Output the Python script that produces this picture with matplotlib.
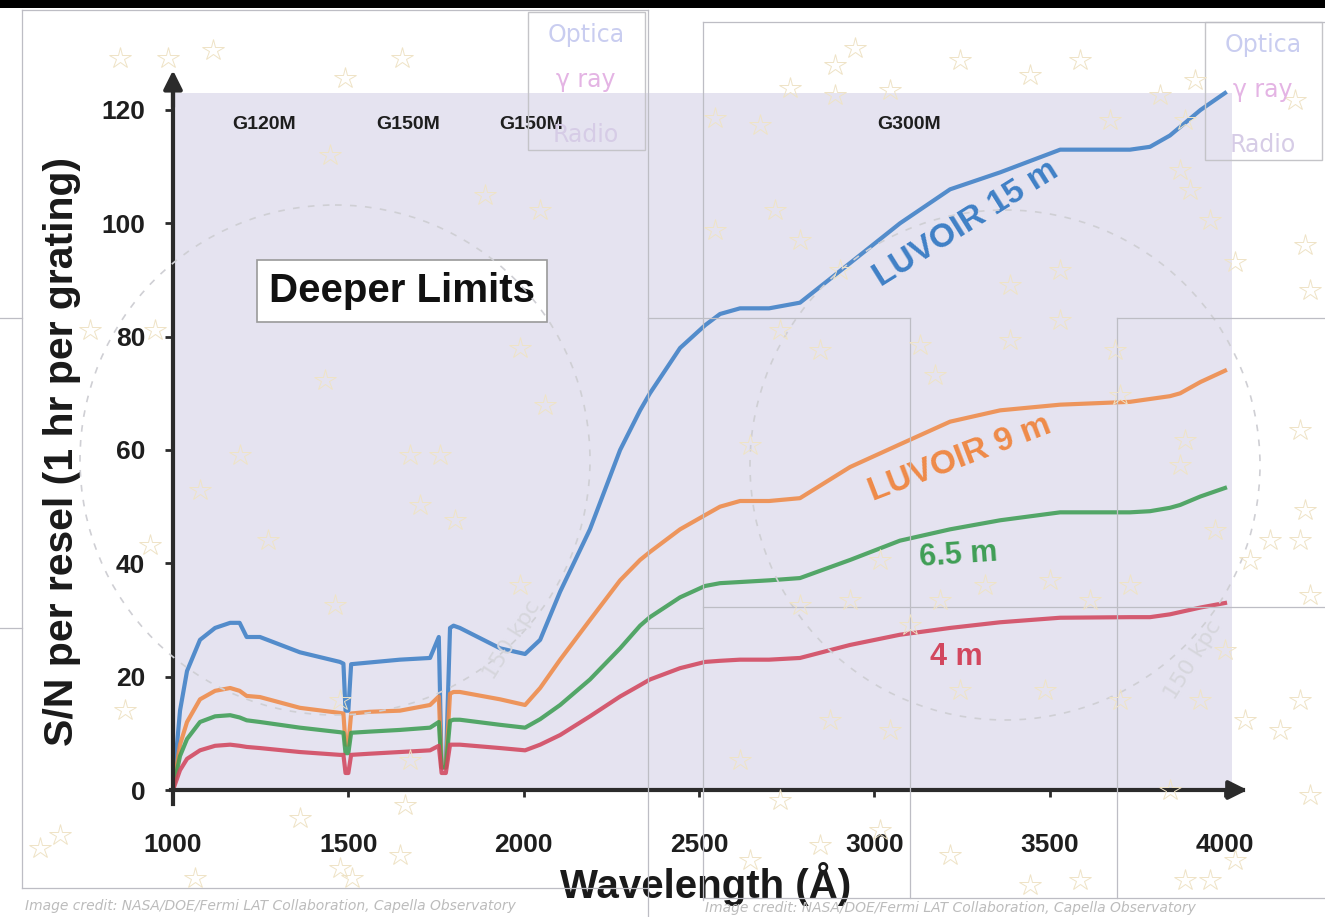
import matplotlib
matplotlib.use("Agg")
import matplotlib.pyplot as plt
from matplotlib.patches import Rectangle, Circle

# ---------------- data ----------------
wavelength = [1000, 1020, 1040, 1077, 1120, 1163, 1190, 1210, 1248, 1362, 1476, 1486, 1492, 1500,
              1508, 1560, 1647, 1733, 1758, 1766, 1778, 1790, 1800, 1818, 1933, 2004, 2047, 2104,
              2189, 2275, 2332, 2360, 2446, 2517, 2560, 2617, 2700, 2788, 2931, 3073, 3216, 3359,
              3530, 3729, 3786, 3843, 3872, 3930, 4000]

sn_15m = [0, 14, 21, 26.5, 28.6, 29.5, 29.5, 27, 27, 24.3, 22.6, 22.3, 14, 14,
          22.2, 22.5, 23, 23.3, 27, 4, 4, 28.6, 29, 28.6, 25, 24, 26.5, 35,
          46, 60, 67, 70, 78, 82, 84, 85, 85, 86, 93, 100, 106, 109,
          113, 113, 113.5, 115.5, 117, 120, 123]

sn_9m = [0, 8, 12, 16, 17.5, 18, 17.5, 16.6, 16.4, 14.5, 13.6, 13.5, 8, 8,
         13.5, 13.8, 14, 15, 16.5, 4, 4, 17, 17.3, 17.3, 16, 15, 18, 23,
         30, 37, 40.6, 42, 46, 48.5, 50, 51, 51, 51.5, 57, 61, 65, 67,
         68, 68.5, 69, 69.5, 70, 72, 74]

sn_65m = [0, 6, 9, 12, 13, 13.2, 12.8, 12.3, 12, 11, 10.2, 10.1, 6.5, 6.5,
          10.1, 10.3, 10.6, 11, 12, 4, 4, 12.2, 12.4, 12.4, 11.5, 11, 12.5, 15,
          19.5, 25, 29, 30.5, 34, 36, 36.5, 36.7, 37, 37.4, 40.6, 44, 46, 47.6,
          49, 49, 49.2, 49.8, 50.3, 51.8, 53.3]

sn_4m = [0, 3.5, 5.5, 7, 7.8, 8, 7.8, 7.6, 7.4, 6.7, 6.2, 6.2, 3, 3,
         6.2, 6.4, 6.7, 7, 7.8, 3, 3, 8, 8, 8, 7.4, 7, 8, 9.7,
         13, 16.5, 18.5, 19.5, 21.5, 22.6, 22.8, 23, 23, 23.3, 25.6, 27.4, 28.6, 29.6,
         30.4, 30.5, 30.5, 31, 31.4, 32.2, 33]

series_names = ["LUVOIR 15 m", "LUVOIR 9 m", "6.5 m", "4 m"]
series_values = [sn_15m, sn_9m, sn_65m, sn_4m]
series_colors = ["#3f80c6", "#ef8a48", "#3f9e55", "#d2475e"]

grating_names = ["G120M", "G150M", "G150M", "G300M"]
grating_x = [1260, 1670, 2020, 3100]

x_ticks = [1000, 1500, 2000, 2500, 3000, 3500, 4000]
y_ticks = [0, 20, 40, 60, 80, 100, 120]

# ---------------- figure ----------------
W, H = 1325, 917
fig = plt.figure(figsize=(W / 100, H / 100), dpi=100)
fig.patch.set_facecolor("white")

px_per_x = (1225 - 173) / 3000.0
px_per_y = (790 - 110) / 120.0
left_px, right_px, top_px, bot_px = 173, 1262, 60, 800
x0 = 1000
x1 = 1000 + (right_px - left_px) / px_per_x
y0 = -(bot_px - 790) / px_per_y
y1 = (790 - top_px) / px_per_y

ax = fig.add_axes([left_px / W, (H - bot_px) / H, (right_px - left_px) / W, (bot_px - top_px) / H])
ax.set_xlim(x0, x1)
ax.set_ylim(y0, y1)
ax.patch.set_alpha(0)

FONT = "Liberation Sans"

# lavender plotting area
ax.add_patch(Rectangle((1000, 0), 3020, 123, facecolor="#e5e3f0", edgecolor="none", zorder=0))

for vals, col in zip(series_values, series_colors):
    ax.plot(wavelength, vals, color=col, lw=3, alpha=0.88, solid_joinstyle="round", zorder=3)

# axes as arrows
for s in ["top", "right"]:
    ax.spines[s].set_visible(False)
ax.spines["left"].set_position(("data", 1000))
ax.spines["bottom"].set_position(("data", 0))
ax.spines["left"].set_bounds(-2.5, 124)
ax.spines["bottom"].set_bounds(995, 4050)
for s in ["left", "bottom"]:
    ax.spines[s].set_linewidth(3)
    ax.spines[s].set_color("#2b2b2b")
    ax.spines[s].set_zorder(4)
ax.annotate("", xy=(4072, 0), xytext=(4000, 0),
            arrowprops=dict(arrowstyle="-|>", color="#2b2b2b", lw=3, mutation_scale=28), zorder=4)
ax.annotate("", xy=(1000, 127.5), xytext=(1000, 120),
            arrowprops=dict(arrowstyle="-|>", color="#2b2b2b", lw=3, mutation_scale=28), zorder=4)

ax.set_xticks(x_ticks)
ax.set_yticks(y_ticks)
ax.set_xticklabels([str(v) for v in x_ticks])
ax.set_yticklabels([str(v) for v in y_ticks])
ax.tick_params(axis="x", length=5, width=2, color="#2b2b2b", pad=26, labelsize=19)
ax.tick_params(axis="y", length=6, width=2, color="#2b2b2b", pad=14, labelsize=19)
for lab in ax.get_xticklabels() + ax.get_yticklabels():
    lab.set_fontfamily(FONT)
    lab.set_fontweight("bold")
    lab.set_color("#1e1e1e")

fig.text(62 / W, 1 - 452 / H, "S/N per resel (1 hr per grating)", rotation=90, ha="center", va="center",
         fontsize=29.5, fontweight="bold", family=FONT, color="#1a1a1a")
fig.text(706 / W, 1 - 884 / H, "Wavelength (Å)", ha="center", va="center",
         fontsize=29, fontweight="bold", family=FONT, color="#1a1a1a")

# grating labels
for name, gx in zip(grating_names, grating_x):
    ax.text(gx, 117.5, name, ha="center", va="center", fontsize=14, fontweight="bold",
            family=FONT, color="#1e1e1e", zorder=5)

# Deeper Limits box
ax.text(1653, 88, "Deeper Limits", ha="center", va="center", fontsize=29, fontweight="bold",
        family=FONT, color="#111111", zorder=6,
        bbox=dict(boxstyle="square,pad=0.3", facecolor="white", edgecolor="#9a9a9a", lw=1.2))

# curve labels
ax.text(3262, 100, "LUVOIR 15 m", rotation=32, ha="center", va="center", fontsize=24, fontweight="bold",
        family=FONT, color=series_colors[0], zorder=5)
ax.text(3245, 58.5, "LUVOIR 9 m", rotation=21, ha="center", va="center", fontsize=24, fontweight="bold",
        family=FONT, color=series_colors[1], zorder=5)
ax.text(3239, 41.5, "6.5 m", rotation=4, ha="center", va="center", fontsize=22, fontweight="bold",
        family=FONT, color=series_colors[2], zorder=5)
ax.text(3235, 23.5, "4 m", rotation=0, ha="center", va="center", fontsize=22, fontweight="bold",
        family=FONT, color=series_colors[3], zorder=5)

# ---------------- overlay decorations (pixel coordinates) ----------------
ov = fig.add_axes([0, 0, 1, 1], zorder=10)
ov.set_xlim(0, W)
ov.set_ylim(H, 0)
ov.axis("off")
ov.patch.set_alpha(0)

ov.add_patch(Rectangle((0, 0), W, 8, facecolor="black", edgecolor="none"))

line_kw = dict(color="#bdbdc4", lw=0.9)
frame_lines = [
    ((22, 22), (10, 888)), ((22, 648), (888, 888)), ((22, 648), (10, 10)), ((648, 648), (10, 917)),
    ((703, 703), (22, 900)), ((703, 1325), (22, 22)), ((703, 1325), (898, 898)),
    ((0, 22), (318, 318)), ((0, 22), (628, 628)), ((648, 910), (318, 318)),
    ((910, 910), (318, 898)), ((1117, 1117), (318, 898)), ((1117, 1325), (318, 318)),
    ((703, 1325), (607, 607)), ((648, 703), (628, 628)),
]
for xs, ys in frame_lines:
    ov.plot(xs, ys, **line_kw)

# label boxes
for bx, by in [(528, 12), (1205, 22)]:
    ov.add_patch(Rectangle((bx, by), 117, 138, facecolor="none", edgecolor="#c4c4c8", lw=1))
    cx = bx + 58
    ov.text(cx, by + 23, "Optica", ha="center", va="center", fontsize=17, family="DejaVu Sans",
            color="#c9cdf0")
    ov.text(cx, by + 68, "γ ray", ha="center", va="center", fontsize=17, family="DejaVu Sans",
            color="#e4b4e4")
    ov.text(cx, by + 123, "Radio", ha="center", va="center", fontsize=17, family="DejaVu Sans",
            color="#d6cce6")

# dashed circles
for (cx, cy), lbl_xy in [((335, 460), (512, 640)), ((1005, 465), (1193, 660))]:
    ov.add_patch(Circle((cx, cy), 255, facecolor="none", edgecolor="#cfcfd4", lw=1.2,
                        linestyle=(0, (4, 5))))
    ov.text(lbl_xy[0], lbl_xy[1], "150 kpc", rotation=58, ha="center", va="center",
            fontsize=16, color="#d6d6dc", family="DejaVu Sans")

# stars
star_x = [120, 168, 213, 345, 402, 330, 485, 540, 855, 960, 1030, 1080, 790, 835, 835, 715, 760, 890,
          1110, 1160, 1195, 1185, 1295, 715, 775, 800, 840, 1010, 1060, 1180, 1190, 1210, 1235,
          1305, 1310, 90, 155, 200, 268, 410, 440, 325, 520, 545, 455, 420, 240, 150, 335, 520,
          125, 60, 40, 195, 300, 340, 352, 400, 405, 340, 410, 780, 750, 820, 920, 935, 1010,
          1060, 1115, 1120, 1180, 1185, 1300, 1305, 1270, 1300, 1215, 1250, 1310, 800, 850, 880,
          910, 940, 985, 1050, 1090, 1130, 1225, 1300, 740, 780, 830, 890, 960, 1045, 1120,
          1200, 1245, 1280, 1310, 1170, 1235, 1185, 1210, 1080, 1030, 950, 880, 820, 750]
star_y = [58, 58, 50, 78, 58, 155, 195, 210, 48, 60, 75, 60, 88, 65, 95, 118, 125, 90,
          120, 95, 80, 120, 100, 230, 210, 240, 270, 285, 270, 170, 190, 220, 262,
          245, 290, 330, 330, 490, 540, 455, 455, 380, 348, 405, 520, 505, 455, 545, 605, 585,
          710, 835, 848, 878, 818, 868, 878, 855, 805, 700, 760, 330, 445, 350, 345, 375, 340,
          320, 350, 395, 465, 440, 430, 510, 540, 540, 530, 560, 595, 605, 600, 560,
          625, 600, 585, 580, 600, 585, 650, 700, 760, 800, 720, 730, 690, 690, 700,
          700, 720, 730, 795, 790, 860, 880, 880, 880, 885, 855, 830, 845, 860]
ov.plot(star_x, star_y, linestyle="none", marker="*", markersize=16, markerfacecolor="none",
        markeredgecolor="#efe3c6", markeredgewidth=0.7)

# credits
ov.text(25, 906, "Image credit: NASA/DOE/Fermi LAT Collaboration, Capella Observatory",
        ha="left", va="center", fontsize=10, style="italic", color="#bcbcbc", family="DejaVu Sans")
ov.text(705, 908, "Image credit: NASA/DOE/Fermi LAT Collaboration, Capella Observatory",
        ha="left", va="center", fontsize=10, style="italic", color="#bcbcbc", family="DejaVu Sans")

fig.savefig("out.png", dpi=100)
